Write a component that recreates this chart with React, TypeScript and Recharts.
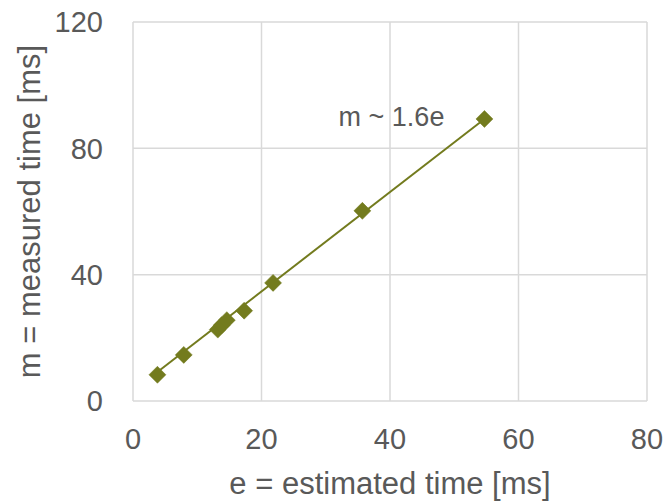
import React from "react";
import {
  ScatterChart,
  Scatter,
  XAxis,
  YAxis,
  CartesianGrid,
  ReferenceDot,
  Label,
} from "recharts";

const estimated = [3.8, 7.9, 13.2, 13.8, 14.6, 17.3, 21.8, 35.7, 54.7];
const measured = [8.3, 14.6, 22.6, 24.0, 25.6, 28.6, 37.4, 60.2, 89.3];

const trendE = [3.8, 54.7];
const trendM = [9.2, 89.3];

const xTicks = [0, 20, 40, 60, 80];
const yTicks = [0, 40, 80, 120];

const annotation = { e: 32, m: 89.8, text: "m ~ 1.6e" };

const xTitle = "e = estimated time [ms]";
const yTitle = "m = measured time [ms]";

const points = estimated.map((e, i) => ({ e, m: measured[i] }));
const trend = trendE.map((e, i) => ({ e, m: trendM[i] }));

const OLIVE = "#737b1e";
const TEXT = "#595959";
const FONT = "'Liberation Sans', Arial, sans-serif";

const Diamond = (props: any) => {
  const { cx, cy } = props;
  if (cx == null || cy == null) return null;
  const r = 8.5;
  return (
    <polygon
      points={`${cx},${cy - r} ${cx + r},${cy} ${cx},${cy + r} ${cx - r},${cy}`}
      fill={OLIVE}
      stroke={OLIVE}
      strokeWidth={0.5}
    />
  );
};

const NoShape = () => null;

export default function App() {
  return (
    <div style={{ position: "absolute", left: 0, top: 0, background: "#fff" }}>
      <ScatterChart
        width={672}
        height={502}
        margin={{ top: 22, right: 25, bottom: 0, left: 0 }}
      >
        <CartesianGrid stroke="#d9d9d9" strokeWidth={1.5} horizontalValues={yTicks} verticalValues={xTicks} />
        <XAxis
          type="number"
          dataKey="e"
          domain={[0, 80]}
          ticks={xTicks}
          axisLine={false}
          tickLine={false}
          tickSize={0}
          tickMargin={27}
          height={101}
          tick={{ fill: TEXT, fontSize: 29, fontFamily: FONT }}
          interval={0}
        >
          <Label
            content={({ viewBox }: any) => (
              <text
                x={viewBox.x + viewBox.width / 2}
                y={viewBox.y + viewBox.height - 8}
                textAnchor="middle"
                fill={TEXT}
                fontSize={31}
                fontFamily={FONT}
              >
                {xTitle}
              </text>
            )}
          />
        </XAxis>
        <YAxis
          type="number"
          dataKey="m"
          domain={[0, 120]}
          ticks={yTicks}
          axisLine={false}
          tickLine={false}
          tickSize={0}
          tickMargin={30}
          width={133}
          tick={{ fill: TEXT, fontSize: 29, fontFamily: FONT }}
          interval={0}
        >
          <Label
            content={({ viewBox }: any) => {
              const x = viewBox.x + 29;
              const y = viewBox.y + viewBox.height / 2;
              return (
                <text
                  x={x}
                  y={y}
                  transform={`rotate(-90 ${x} ${y})`}
                  textAnchor="middle"
                  dominantBaseline="central"
                  fill={TEXT}
                  fontSize={31}
                  fontFamily={FONT}
                >
                  {yTitle}
                </text>
              );
            }}
          />
        </YAxis>
        <Scatter
          data={trend}
          line={{ stroke: OLIVE, strokeWidth: 2 }}
          shape={NoShape}
          isAnimationActive={false}
        />
        <Scatter data={points} shape={Diamond} isAnimationActive={false} />
        <ReferenceDot
          x={annotation.e}
          y={annotation.m}
          r={0}
          fill="none"
          stroke="none"
          label={({ viewBox }: any) => (
            <text
              x={viewBox.x}
              y={viewBox.y}
              textAnchor="start"
              dominantBaseline="central"
              fill={TEXT}
              fontSize={27}
              fontFamily={FONT}
            >
              {annotation.text}
            </text>
          )}
        />
      </ScatterChart>
    </div>
  );
}
